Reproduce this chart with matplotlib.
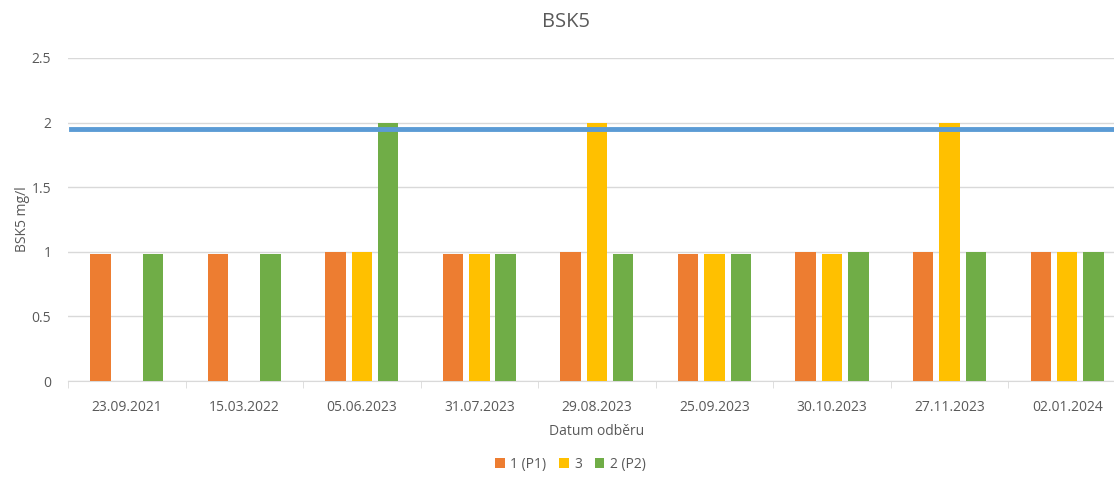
import matplotlib.pyplot as plt
import numpy as np

plt.rcParams['font.family'] = ['Open Sans', 'DejaVu Sans']

dates = ['23.09.2021', '15.03.2022', '05.06.2023', '31.07.2023', '29.08.2023',
         '25.09.2023', '30.10.2023', '27.11.2023', '02.01.2024']
p1 = [0.98, 0.98, 1, 0.98, 1, 0.98, 1, 1, 1]
s3 = [np.nan, np.nan, 1, 0.98, 2, 0.98, 0.98, 2, 1]
p2 = [0.98, 0.98, 2, 0.98, 0.98, 0.98, 1, 1, 1]
limit = 1.95

series = [('1 (P1)', p1, '#ED7D31'), ('3', s3, '#FFC000'), ('2 (P2)', p2, '#70AD47')]
txt = '#595959'

fig = plt.figure(figsize=(11.14, 4.82), dpi=100)
# the chart is cut off on the right, so the axes run past the figure edge
ax = fig.add_axes([0.061, 0.2095, 0.9497, 0.6702])

x = np.arange(len(dates))
w = 0.174
step = 0.224
for i, (name, vals, col) in enumerate(series):
    ax.bar(x + (i - 1) * step, vals, w, color=col, label=name, zorder=3)

ax.axhline(limit, xmin=0.003, xmax=1.0, color='#5B9BD5', lw=3.5, zorder=4)

ax.set_xlim(-0.5, len(dates) - 0.5)
ax.set_ylim(0, 2.5)
ax.set_yticks([0, 0.5, 1, 1.5, 2, 2.5])
ax.set_yticklabels(['0', '0.5', '1', '1.5', '2', '2.5'])
ax.set_xticks(x)
ax.set_xticklabels(dates)
ax.set_xticks(np.arange(-0.5, len(dates), 1), minor=True)
ax.tick_params(axis='x', which='major', length=0, pad=14, labelsize=10, labelcolor=txt)
ax.tick_params(axis='x', which='minor', length=5, color='#D9D9D9')
ax.tick_params(axis='y', length=0, pad=12, labelsize=10, labelcolor=txt)
ax.grid(axis='y', color='#D9D9D9', lw=1, zorder=0)

for s in ['top', 'right', 'left']:
    ax.spines[s].set_visible(False)
ax.spines['bottom'].set_color('#D9D9D9')

fig.text(0.508, 0.955, 'BSK5', fontsize=14.5, color=txt, ha='center', va='center')
ax.set_ylabel('BSK5 mg/l', fontsize=10, color=txt, labelpad=1)
ax.set_xlabel('Datum odběru', fontsize=10, color=txt, labelpad=6)

fig.legend(loc='lower center', bbox_to_anchor=(0.512, -0.005), ncol=3, frameon=False,
           fontsize=10, labelcolor=txt, handlelength=0.7, handleheight=0.7,
           handletextpad=0.4, columnspacing=0.9)

plt.savefig('out.png', dpi=100)
